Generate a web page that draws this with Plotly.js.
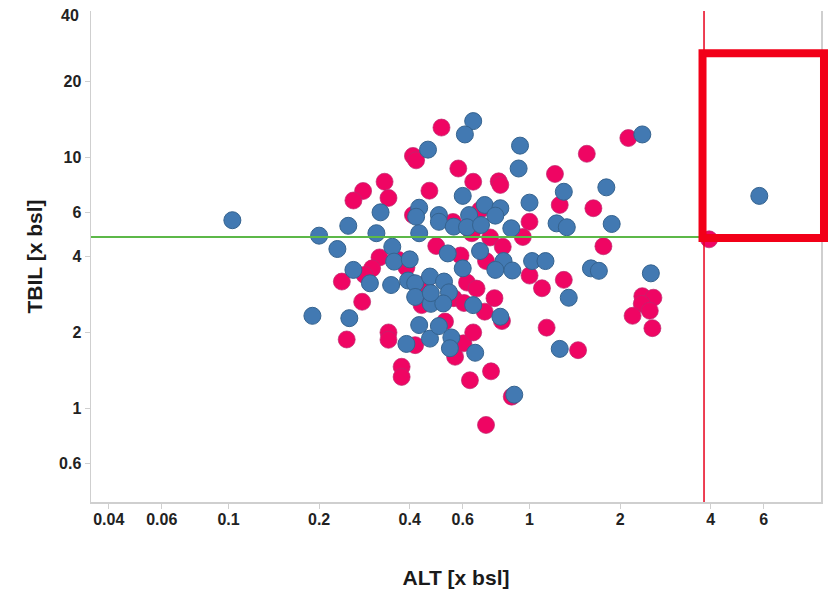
<!DOCTYPE html>
<html>
<head>
<meta charset="utf-8">
<script src="https://cdn.plot.ly/plotly-3.0.1.min.js"></script>
<style>html,body{margin:0;padding:0;background:#fff;}#chart{width:828px;height:594px;}</style>
</head>
<body>
<div id="chart"></div>
<script>
// Blue group (ALT, TBIL in x baseline)
const blueALT = [0.103,0.19,5.8,0.89,2.37,0.65,0.61,0.46,0.93,0.92,0.60,0.71,0.80,0.77,1.0,0.63,0.50,0.50,0.43,0.42,
  0.56,0.62,0.69,0.43,0.87,0.32,0.25,0.20,0.31,0.23,0.35,0.355,0.40,0.26,0.295,0.347,0.395,0.417,0.467,0.52,
  0.417,0.535,0.60,0.685,0.82,0.77,0.877,1.02,1.13,1.35,1.30,1.23,1.33,1.80,1.875,1.60,1.70,2.53,1.26,0.80,
  0.54,0.47,0.517,0.65,0.252,0.39,0.43,0.467,0.50,0.55,0.544,0.66,0.47];
const blueTBIL = [5.6,2.33,7.0,1.13,12.3,13.9,12.3,10.7,11.1,9.0,7.0,6.44,6.25,5.84,6.58,5.87,5.87,5.52,6.28,5.78,
  5.28,5.25,5.36,4.97,5.2,6.02,5.32,4.86,4.97,4.30,4.39,3.83,3.91,3.55,3.14,3.09,3.22,3.14,3.34,3.19,
  2.77,4.13,3.60,4.22,3.85,3.55,3.53,3.85,3.85,2.75,7.27,5.44,5.25,7.57,5.41,3.60,3.52,3.44,1.72,2.31,
  2.89,2.60,2.61,2.57,2.28,1.80,2.14,1.89,2.12,1.91,1.73,1.66,2.87];
// Pink group
const pinkALT = [0.51,0.41,0.42,0.33,0.28,0.26,0.34,0.465,0.41,0.58,0.65,0.79,0.80,0.685,0.557,1.0,0.95,0.74,0.643,0.815,
  0.49,0.59,0.717,1.0,1.10,1.30,0.62,0.667,0.765,1.215,1.55,2.13,1.26,1.63,1.76,2.37,2.58,2.36,2.51,2.20,
  2.56,1.14,1.45,0.745,0.873,0.717,0.71,0.81,0.3175,0.367,0.39,0.30,0.283,0.238,0.45,0.278,0.247,0.34,0.34,0.417,
  0.524,0.438,0.56,0.606,0.603,0.65,0.566,0.376,0.376,0.634,3.95];
const pinkTBIL = [13.1,10.1,9.7,7.97,7.32,6.71,6.87,7.34,5.87,9.0,7.97,8.0,7.74,6.15,5.51,5.52,4.80,4.78,4.97,4.39,
  4.42,4.05,3.85,3.37,3.0,3.24,3.16,2.99,2.74,8.56,10.3,11.9,6.44,6.25,4.41,2.79,2.75,2.60,2.44,2.33,
  2.08,2.09,1.70,1.40,1.11,0.856,2.42,2.22,3.98,3.89,3.63,3.60,3.39,3.19,3.12,2.65,1.875,2.0,1.87,1.78,
  2.21,2.57,2.74,2.62,1.81,2.0,1.60,1.46,1.33,1.29,4.7];

const xTicks = [0.04,0.06,0.1,0.2,0.4,0.6,1,2,4,6];
const yTicks = [0.6,1,2,4,6,10,20];
const altLimit = 3.8;
const tbilLimit = 4.8;

const tickFont = {family:'"Liberation Sans", Arial, sans-serif', size:16, color:'#222', weight:'bold'};
const titleFont = {family:'"Liberation Sans", Arial, sans-serif', size:21, color:'#1a1a1a', weight:'bold'};

const traces = [
  {x:pinkALT, y:pinkTBIL, type:'scatter', mode:'markers', name:'B',
   marker:{size:17, color:'#ef0563', line:{width:1, color:'rgba(190,40,110,0.7)'}}},
  {x:blueALT, y:blueTBIL, type:'scatter', mode:'markers', name:'A',
   marker:{size:17, color:'#4279b2', line:{width:1, color:'#35638f'}}}
];

const layout = {
  width:828, height:594,
  margin:{l:91, r:7, t:11, b:92},
  paper_bgcolor:'#fff', plot_bgcolor:'#fff',
  showlegend:false,
  xaxis:{type:'log', range:[-1.4568, 0.9684], tickvals:xTicks, ticktext:xTicks.map(String),
    showgrid:false, zeroline:false, showline:true, linecolor:'#cfcfcf', linewidth:1.5,
    ticks:'outside', ticklen:5, tickcolor:'#cfcfcf', tickfont:tickFont, ticklabelstandoff:-3,
    title:{text:'ALT [x bsl]', font:titleFont, standoff:43}},
  yaxis:{type:'log', range:[-0.3745, 1.5817], tickvals:yTicks, ticktext:yTicks.map(String),
    showgrid:false, zeroline:false, showline:true, mirror:true, linecolor:'#cfcfcf', linewidth:1.5,
    ticks:'outside', ticklen:5, tickcolor:'#cfcfcf', tickfont:tickFont,
    title:{text:'TBIL [x bsl]', font:titleFont, standoff:10}},
  shapes:[
    {type:'line', xref:'paper', yref:'y', x0:0, x1:1, y0:tbilLimit, y1:tbilLimit, line:{color:'#5cb848', width:2}},
    {type:'line', xref:'x', yref:'paper', x0:altLimit, x1:altLimit, y0:0, y1:1, line:{color:'#e8001c', width:1.5}},
    {type:'rect', xref:'paper', yref:'paper', x0:0.8377, x1:1.0041, y0:0.5377, y1:0.9139,
     line:{color:'#f20018', width:8}, fillcolor:'rgba(0,0,0,0)'}
  ],
  annotations:[
    {text:'40', xref:'paper', yref:'paper', x:0, y:0.99, xanchor:'right', yanchor:'middle', xshift:-10,
     showarrow:false, font:tickFont}
  ]
};

Plotly.newPlot('chart', traces, layout, {staticPlot:true, displayModeBar:false});
</script>
</body>
</html>
